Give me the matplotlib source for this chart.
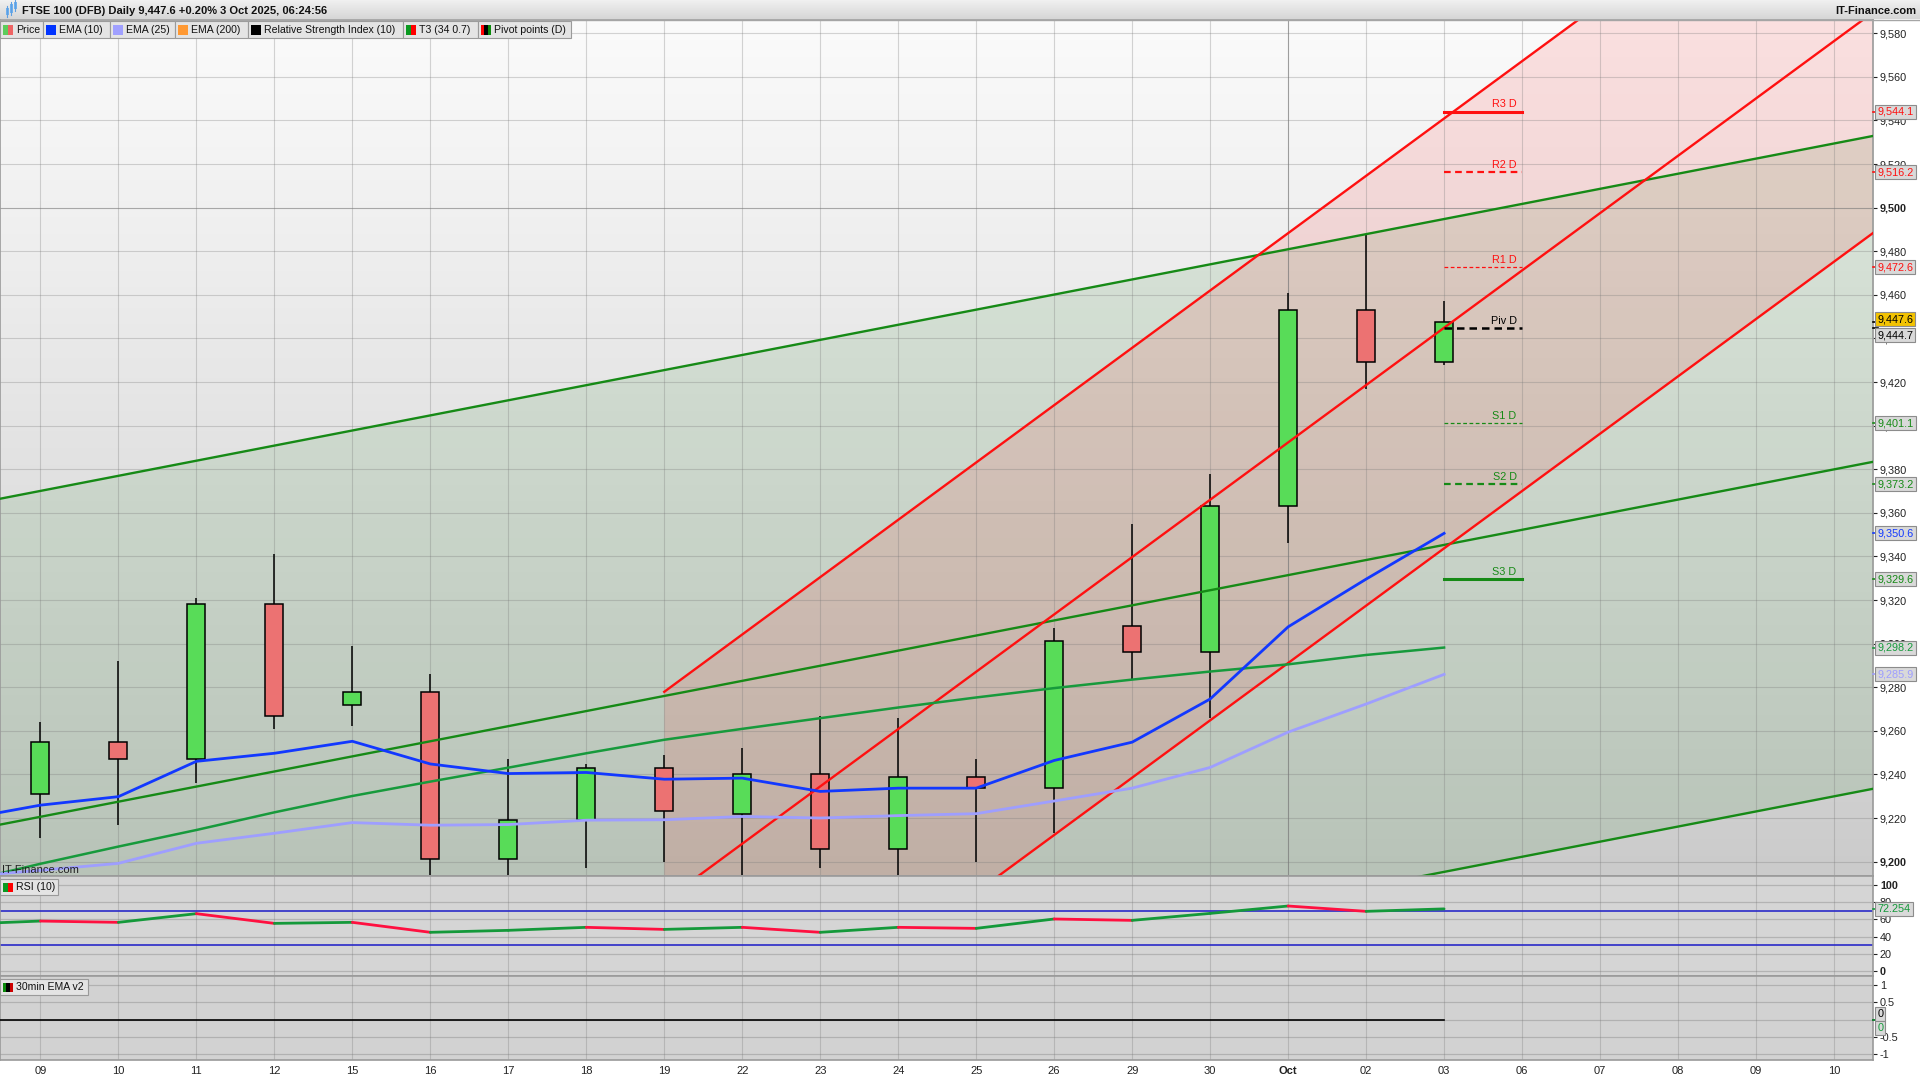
import numpy as np
import matplotlib
matplotlib.use("Agg")
import matplotlib.pyplot as plt
from matplotlib.patches import Rectangle
from matplotlib.colors import LinearSegmentedColormap
from matplotlib.transforms import blended_transform_factory

plt.rcParams["font.family"] = ["Liberation Sans", "DejaVu Sans"]

W, H = 1920, 1080

# ---- data ----
days = ["09", "10", "11", "12", "15", "16", "17", "18", "19", "22", "23", "24",
        "25", "26", "29", "30", "Oct", "02", "03", "06", "07", "08", "09", "10"]

opens = [9231, 9255, 9247, 9318, 9272, 9278, 9201, 9219, 9243, 9222, 9240, 9206,
         9239, 9234, 9308, 9296, 9363, 9453, 9429]
highs = [9264, 9292, 9321, 9341, 9299, 9286, 9247, 9245, 9249, 9252, 9267, 9266,
         9247, 9307, 9355, 9378, 9461, 9488, 9457]
lows = [9211, 9217, 9236, 9261, 9262, 9194, 9190, 9197, 9200, 9192, 9197, 9192,
        9200, 9213, 9284, 9266, 9346, 9417, 9428]
closes = [9255, 9247, 9318, 9267, 9278, 9201, 9219, 9243, 9223, 9240, 9206, 9239,
          9234, 9301, 9296, 9363, 9453, 9429, 9447.6]

# indicator series start one session before the first visible candle
ema10 = [9219.4, 9225.9, 9229.8, 9246.0, 9249.7, 9255.2, 9244.8, 9240.4, 9240.9, 9237.8,
         9238.3, 9232.2, 9233.7, 9233.7, 9246.4, 9254.8, 9274.6, 9307.7, 9329.6, 9350.6]
ema25 = [9193.0, 9196.0, 9199.2, 9208.4, 9213.0, 9217.9, 9216.7, 9217.0, 9219.0, 9219.2,
         9220.7, 9220.0, 9221.1, 9222.0, 9227.8, 9233.7, 9243.2, 9259.4, 9272.3, 9285.9]
t3 = [9190.5, 9199.0, 9206.9, 9214.5, 9222.6, 9230.1, 9236.7, 9243.1, 9249.7, 9255.9,
      9260.9, 9265.8, 9270.7, 9275.3, 9279.6, 9283.5, 9287.2, 9290.5, 9294.8, 9298.2]
rsi = [54.5, 58.1, 56.6, 66.7, 55.4, 56.6, 45.0, 47.3, 50.8, 48.4,
       50.8, 45.0, 50.8, 49.6, 60.5, 58.9, 67.0, 75.6, 69.4, 72.254]

pivot_names = ["R3 D", "R2 D", "R1 D", "Piv D", "S1 D", "S2 D", "S3 D"]
pivot_values = [9544.1, 9516.2, 9472.6, 9444.7, 9401.1, 9373.2, 9329.6]

# trend channels (start / end values)
green_x = [-0.6, 23.6]
green_upper = [9365.9, 9533.6]
green_middle = [9216.4, 9384.1]
green_lower = [9066.4, 9234.1]
red_x = [8, 23.6]
red_upper = [9277.9, 9688.2]
red_middle = [9181.9, 9592.2]
red_lower = [9080.7, 9491.0]

ema30_x = [-1, 18]
ema30 = [0, 0]

GREEN = "#168a16"
RED = "#ff1010"


def rect(x0, y0, x1, y1):
    return [x0 / W, 1 - y1 / H, (x1 - x0) / W, (y1 - y0) / H]


fig = plt.figure(figsize=(W / 100, H / 100), dpi=100, facecolor="white")
ax = fig.add_axes(rect(0, 20, 1873, 876))
ax_rsi = fig.add_axes(rect(0, 876, 1873, 976), sharex=ax)
ax_ema = fig.add_axes(rect(0, 976, 1873, 1060), sharex=ax)

XL = (-0.518, 23.5)
YL = (9193.4, 9586.1)

# ---- main panel ----
bg = LinearSegmentedColormap.from_list("bg", ["#fbfbfb", "#cbcbcb"])
ax.imshow(np.linspace(0, 1, 256).reshape(-1, 1), cmap=bg, aspect="auto",
          extent=(XL[0], XL[1], YL[0], YL[1]), origin="upper", zorder=0)

ax.fill_between(green_x, green_upper, green_lower, color="#4f9a4f", alpha=0.15,
                lw=0, zorder=1)
ax.fill_between(red_x, red_upper, red_lower, color="#ff2020", alpha=0.12,
                lw=0, zorder=1)

for y in range(9200, 9581, 20):
    ax.axhline(y, color="#777777", alpha=0.6 if y == 9500 else 0.3, lw=0.8, zorder=1.2)
for i in range(len(days)):
    ax.axvline(i, color="#777777", alpha=0.7 if days[i] == "Oct" else 0.3, lw=0.8,
               zorder=1.2)

x = np.arange(len(closes))
up = [c >= o for o, c in zip(opens, closes)]
ax.vlines(x, lows, highs, color="black", lw=1.1, zorder=2)
ax.bar(x, [c - o for o, c in zip(opens, closes)], bottom=opens, width=0.23,
       color=["#58dc58" if u else "#ec7272" for u in up], edgecolor="black",
       lw=1.1, zorder=2.1)

ax.plot(green_x, green_upper, color=GREEN, lw=1.7, zorder=3)
ax.plot(green_x, green_middle, color=GREEN, lw=1.7, zorder=3)
ax.plot(green_x, green_lower, color=GREEN, lw=1.7, zorder=3)
ax.plot(red_x, red_upper, color=RED, lw=1.7, zorder=3)
ax.plot(red_x, red_middle, color=RED, lw=1.7, zorder=3)
ax.plot(red_x, red_lower, color=RED, lw=1.7, zorder=3)

xi = np.arange(-1, len(ema10) - 1)
ax.plot(xi, t3, color="#179a3c", lw=1.8, zorder=3.2)
ax.plot(xi, ema25, color="#9e9eff", lw=2.0, zorder=3.3)
ax.plot(xi, ema10, color="#1238ff", lw=2.0, zorder=3.4)

# pivot levels
piv_styles = [(RED, "-", 2.2), (RED, (0, (3, 2)), 1.6), (RED, (0, (3, 2)), 0.9),
              ("black", (0, (3, 2)), 1.8), (GREEN, (0, (3, 2)), 0.9),
              (GREEN, (0, (3, 2)), 1.6), (GREEN, "-", 2.2)]
for name, val, (col, ls, lw) in zip(pivot_names, pivot_values, piv_styles):
    ax.plot([18, 19], [val, val], color=col, ls=ls, lw=lw, zorder=3.5)
    ax.text(18.93, val + 1.0, name, ha="right", va="bottom", fontsize=7.8,
            color=col, zorder=3.5)

ax.set_xlim(*XL)
ax.set_ylim(*YL)
ax.yaxis.tick_right()
ax.set_yticks(range(9200, 9581, 20))
ax.set_yticklabels([f"{v:,}" for v in range(9200, 9581, 20)])
for v, lab in zip(range(9200, 9581, 20), ax.get_yticklabels()):
    if v % 100 == 0:
        lab.set_fontweight("bold")
ax.tick_params(axis="y", labelsize=7.8, length=3, pad=2, colors="#222222")
ax.tick_params(axis="x", bottom=False, labelbottom=False)

# ---- RSI panel ----
ax_rsi.set_facecolor("#d5d5d5")
for y in range(0, 101, 20):
    ax_rsi.axhline(y, color="#8a8a8a", alpha=0.45, lw=0.9, zorder=1)
for i in range(len(days)):
    ax_rsi.axvline(i, color="#777777", alpha=0.3, lw=0.8, zorder=1)
ax_rsi.axhline(70, color="#2a2ac8", lw=1.2, zorder=2)
ax_rsi.axhline(30, color="#2a2ac8", lw=1.2, zorder=2)
for k in range(len(rsi) - 1):
    col = "#14993a" if rsi[k + 1] >= rsi[k] else "#ff1040"
    ax_rsi.plot(xi[k:k + 2], rsi[k:k + 2], color=col, lw=2.0, zorder=3,
                solid_capstyle="round")
ax_rsi.set_ylim(-5.8, 110.5)
ax_rsi.yaxis.tick_right()
ax_rsi.set_yticks([0, 20, 40, 60, 80, 100])
ax_rsi.set_yticklabels(["0", "20", "40", "60", "80", "100"])
for lab in ax_rsi.get_yticklabels():
    if lab.get_text() in ("0", "100"):
        lab.set_fontweight("bold")
ax_rsi.tick_params(axis="y", labelsize=7.8, length=3, pad=2, colors="#222222")
ax_rsi.tick_params(axis="x", bottom=False, labelbottom=False)

# ---- 30min EMA panel ----
ax_ema.set_facecolor("#d2d2d2")
for y in [1, 0.5, 0, -0.5, -1]:
    ax_ema.axhline(y, color="#8a8a8a", alpha=0.45, lw=0.9, zorder=1)
for i in range(len(days)):
    ax_ema.axvline(i, color="#777777", alpha=0.3, lw=0.8, zorder=1)
ax_ema.plot(ema30_x, ema30, color="black", lw=1.2, zorder=3)
ax_ema.set_ylim(-1.17, 1.26)
ax_ema.yaxis.tick_right()
ax_ema.set_yticks([1, 0.5, -0.5, -1])
ax_ema.set_yticklabels(["1", "0.5", "-0.5", "-1"])
ax_ema.tick_params(axis="y", labelsize=7.8, length=3, pad=2, colors="#222222")
ax_ema.set_xticks(range(len(days)))
ax_ema.set_xticklabels(days)
for lab in ax_ema.get_xticklabels():
    if lab.get_text() == "Oct":
        lab.set_fontweight("bold")
ax_ema.tick_params(axis="x", labelsize=8, length=0, pad=4, colors="#222222")

for a in (ax, ax_rsi, ax_ema):
    for s in a.spines.values():
        s.set_color("#9a9a9a")
        s.set_linewidth(1.2)


# ---- value boxes on the right scale ----
def value_box(a, val, text, color, face="#d9d9d9", dy=0):
    tr = blended_transform_factory(a.transAxes, a.transData)
    a.plot([1.0, 1.0025], [val, val], color=color, lw=1.2, transform=tr,
           clip_on=False, zorder=5)
    a.annotate(text, xy=(1.0, val), xycoords=tr, xytext=(3.2, dy),
               textcoords="offset points", va="center", ha="left", fontsize=7.8,
               color=color, zorder=6, annotation_clip=False,
               bbox=dict(boxstyle="square,pad=0.18", fc=face, ec="#8c8c8c", lw=0.8))


value_box(ax, 9544.1, "9,544.1", "#ff1010")
value_box(ax, 9516.2, "9,516.2", "#ff1010")
value_box(ax, 9472.6, "9,472.6", "#ff1010")
value_box(ax, 9447.6, "9,447.6", "black", face="#f3c300", dy=2)
value_box(ax, 9444.7, "9,444.7", "black", dy=-5)
value_box(ax, 9401.1, "9,401.1", "#168a16")
value_box(ax, 9373.2, "9,373.2", "#168a16")
value_box(ax, 9350.6, "9,350.6", "#1238ff")
value_box(ax, 9329.6, "9,329.6", "#168a16")
value_box(ax, 9298.2, "9,298.2", "#179a3c")
value_box(ax, 9285.9, "9,285.9", "#9e9eff")
value_box(ax_rsi, 72.254, "72.254", "#14993a")
value_box(ax_ema, 0, "0", "black", dy=4)
value_box(ax_ema, 0, "0", "#14993a", dy=-6)

# ---- overlay: header, legend, panel captions ----
ov = fig.add_axes([0, 0, 1, 1], zorder=10)
ov.patch.set_alpha(0)
hdr = LinearSegmentedColormap.from_list("hdr", ["#f2f2f2", "#d6d6d6"])
ov.imshow(np.linspace(0, 1, 64).reshape(-1, 1), cmap=hdr, aspect="auto",
          extent=(0, W, 19.5, 0), origin="upper")
ov.plot([0, W], [19.5, 19.5], color="#a5a5a5", lw=1)
ov.set_xlim(0, W)
ov.set_ylim(H, 0)
ov.axis("off")

for cx, top, bot in [(7, 8, 15), (11, 4, 13), (15, 2, 9)]:
    ov.plot([cx, cx], [top - 2, bot + 2], color="#5f9fe0", lw=0.8)
    ov.add_patch(Rectangle((cx - 1.5, top), 3, bot - top, fc="#6fb0ef", ec="none"))
ov.text(22, 10.5, "FTSE 100 (DFB) Daily 9,447.6 +0.20% 3 Oct 2025, 06:24:56",
        fontsize=8, fontweight="bold", va="center", ha="left", color="#111111")
ov.text(1916, 10.5, "IT-Finance.com", fontsize=8, fontweight="bold",
        va="center", ha="right", color="#111111")

legend_items = [("Price", ["#5ccc5c", "#ee6464"]), ("EMA (10)", ["#0033ff"]),
                ("EMA (25)", ["#a0a0ff"]), ("EMA (200)", ["#ff9933"]),
                ("Relative Strength Index (10)", ["black"]),
                ("T3 (34 0.7)", ["#0a9a20", "#ff0000"]),
                ("Pivot points (D)", ["#ff0000", "black", "#0a8a0a"])]
legend_edges = [0, 43, 110, 175, 248, 403, 478, 571]


def caption(x0, x1, y0, y1, label, colors):
    ov.add_patch(Rectangle((x0, y0), x1 - x0, y1 - y0, fc="#e4e4e4", ec="#9a9a9a",
                           lw=0.8))
    n = len(colors)
    for k, c in enumerate(colors):
        ov.add_patch(Rectangle((x0 + 3 + 10 * k / n, y0 + 3.5), 10 / n, y1 - y0 - 7,
                               fc=c, ec="none"))
    ov.text(x0 + 16, (y0 + y1) / 2 + 0.5, label, fontsize=7.6, va="center",
            ha="left", color="#111111")


for k, (label, colors) in enumerate(legend_items):
    caption(legend_edges[k], legend_edges[k + 1], 21, 38, label, colors)

caption(0, 58, 879, 895, "RSI (10)", ["#0a9a20", "#ff0000"])
caption(0, 88, 979, 995, "30min EMA v2", ["#0a8a0a", "black", "#cc0000"])
ov.text(2, 870, "IT-Finance.com", fontsize=8, va="center", ha="left", color="#222222")

fig.savefig("out.png", dpi=100, facecolor="white")
